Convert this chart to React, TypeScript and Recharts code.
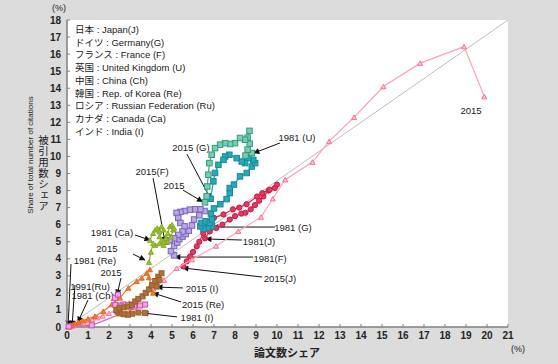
import React from 'react'
import {
  ScatterChart,
  Scatter,
  XAxis,
  YAxis,
  CartesianGrid,
  ReferenceLine,
} from 'recharts'

type Pt = { x: number; y: number }

// ── series (x = 論文数シェア %, y = 被引用数シェア %) ──
const japan: Pt[] = [
  { x: 6.57, y: 5.2 }, { x: 6.8, y: 5.6 }, { x: 7.1, y: 5.8 }, { x: 7.4, y: 6.0 },
  { x: 7.75, y: 6.3 }, { x: 8.0, y: 6.5 }, { x: 8.3, y: 6.65 }, { x: 8.5, y: 6.7 },
  { x: 8.75, y: 6.9 }, { x: 8.95, y: 7.15 }, { x: 9.15, y: 7.4 }, { x: 9.35, y: 7.65 },
  { x: 9.6, y: 8.0 }, { x: 9.9, y: 8.15 }, { x: 10.0, y: 8.35 }, { x: 9.65, y: 8.05 },
  { x: 9.3, y: 7.85 }, { x: 9.05, y: 7.65 }, { x: 8.55, y: 7.2 }, { x: 8.2, y: 7.0 },
  { x: 7.9, y: 6.9 }, { x: 7.45, y: 6.6 }, { x: 7.0, y: 6.4 }, { x: 6.7, y: 6.1 },
  { x: 6.49, y: 5.5 }, { x: 6.3, y: 5.0 }, { x: 6.18, y: 4.73 }, { x: 6.0, y: 4.4 },
  { x: 5.86, y: 4.14 }, { x: 5.7, y: 3.85 }, { x: 5.54, y: 3.55 },
]

const germany: Pt[] = [
  { x: 6.9, y: 5.9 }, { x: 6.7, y: 5.8 }, { x: 6.5, y: 5.75 }, { x: 6.35, y: 5.9 },
  { x: 6.4, y: 6.1 }, { x: 6.6, y: 6.2 }, { x: 6.8, y: 6.1 }, { x: 6.9, y: 6.3 },
  { x: 6.85, y: 6.65 }, { x: 7.0, y: 6.95 }, { x: 7.3, y: 7.2 }, { x: 7.6, y: 7.5 },
  { x: 7.75, y: 7.85 }, { x: 7.75, y: 8.15 }, { x: 7.95, y: 8.35 }, { x: 8.24, y: 8.83 },
  { x: 8.56, y: 9.03 }, { x: 8.8, y: 9.41 }, { x: 8.96, y: 9.61 }, { x: 8.87, y: 9.8 },
  { x: 8.64, y: 9.9 }, { x: 8.48, y: 9.61 }, { x: 8.32, y: 9.7 }, { x: 8.08, y: 9.9 },
  { x: 7.73, y: 10.1 }, { x: 7.53, y: 10.0 }, { x: 7.45, y: 9.8 }, { x: 7.21, y: 9.51 },
  { x: 7.05, y: 9.03 }, { x: 6.97, y: 8.54 }, { x: 6.84, y: 7.52 },
]

const france: Pt[] = [
  { x: 5.1, y: 4.2 }, { x: 4.95, y: 4.45 }, { x: 5.1, y: 4.75 }, { x: 5.25, y: 4.95 },
  { x: 5.35, y: 5.15 }, { x: 5.5, y: 5.3 }, { x: 5.65, y: 5.45 }, { x: 5.8, y: 5.65 },
  { x: 5.95, y: 5.95 }, { x: 6.05, y: 6.3 }, { x: 6.3, y: 6.55 }, { x: 6.55, y: 6.8 },
  { x: 6.35, y: 6.9 }, { x: 6.1, y: 6.9 }, { x: 5.85, y: 6.88 }, { x: 5.6, y: 6.8 },
  { x: 5.4, y: 6.75 }, { x: 5.22, y: 6.69 }, { x: 5.3, y: 6.4 }, { x: 5.4, y: 6.1 },
  { x: 5.6, y: 5.9 }, { x: 5.5, y: 5.6 }, { x: 5.3, y: 5.4 }, { x: 5.1, y: 5.2 },
  { x: 4.9, y: 5.1 }, { x: 4.7, y: 5.0 },
]

const uk: Pt[] = [
  { x: 8.8, y: 10.2 }, { x: 8.5, y: 10.05 }, { x: 8.6, y: 10.4 }, { x: 8.7, y: 10.75 },
  { x: 8.6, y: 11.1 }, { x: 8.69, y: 11.5 }, { x: 8.48, y: 10.98 }, { x: 8.24, y: 11.08 },
  { x: 8.0, y: 10.78 }, { x: 7.77, y: 10.73 }, { x: 7.53, y: 10.78 }, { x: 7.29, y: 10.69 },
  { x: 7.05, y: 10.49 }, { x: 6.89, y: 10.1 }, { x: 6.78, y: 9.61 }, { x: 6.73, y: 8.93 },
  { x: 6.68, y: 8.24 }, { x: 6.65, y: 7.66 }, { x: 6.57, y: 7.31 },
]

const china: Pt[] = [
  { x: 0.1, y: 0.02 }, { x: 0.2, y: 0.05 }, { x: 0.3, y: 0.08 }, { x: 0.4, y: 0.12 },
  { x: 0.5, y: 0.17 }, { x: 0.65, y: 0.22 }, { x: 0.8, y: 0.3 }, { x: 1.0, y: 0.38 },
  { x: 1.2, y: 0.45 }, { x: 1.45, y: 0.55 }, { x: 1.7, y: 0.65 }, { x: 2.0, y: 0.8 },
  { x: 2.3, y: 0.98 }, { x: 2.6, y: 1.18 }, { x: 2.97, y: 1.42 }, { x: 3.3, y: 1.62 },
  { x: 3.56, y: 1.8 }, { x: 4.11, y: 2.24 }, { x: 4.62, y: 2.75 }, { x: 5.22, y: 3.45 },
  { x: 5.95, y: 3.95 }, { x: 7.1, y: 4.75 }, { x: 8.16, y: 5.62 }, { x: 9.24, y: 6.45 },
  { x: 9.8, y: 7.52 }, { x: 10.39, y: 8.64 }, { x: 11.69, y: 9.67 }, { x: 12.48, y: 10.88 },
  { x: 13.67, y: 12.3 }, { x: 15.07, y: 14.1 }, { x: 16.82, y: 15.47 }, { x: 18.91, y: 16.44 },
  { x: 19.87, y: 13.51 },
]

const korea: Pt[] = [
  { x: 0.05, y: 0.03 }, { x: 0.1, y: 0.05 }, { x: 0.15, y: 0.08 }, { x: 0.2, y: 0.1 },
  { x: 0.29, y: 0.15 }, { x: 0.4, y: 0.2 }, { x: 0.55, y: 0.28 }, { x: 0.75, y: 0.38 },
  { x: 1.0, y: 0.48 }, { x: 1.33, y: 0.63 }, { x: 1.73, y: 0.93 }, { x: 2.13, y: 1.32 },
  { x: 2.52, y: 1.71 }, { x: 2.92, y: 2.29 }, { x: 3.32, y: 2.68 }, { x: 3.56, y: 2.88 },
  { x: 3.95, y: 3.37 }, { x: 3.8, y: 3.17 }, { x: 3.9, y: 2.9 }, { x: 4.0, y: 2.5 },
  { x: 4.1, y: 2.0 },
]

const russia: Pt[] = [
  { x: 0.08, y: 0.03 }, { x: 1.18, y: 0.1 }, { x: 3.72, y: 1.32 }, { x: 3.48, y: 1.26 },
  { x: 3.2, y: 1.2 }, { x: 3.0, y: 1.22 }, { x: 2.85, y: 1.3 }, { x: 2.68, y: 1.32 },
  { x: 2.55, y: 1.25 }, { x: 2.4, y: 1.15 }, { x: 2.3, y: 1.3 }, { x: 2.29, y: 1.71 },
  { x: 2.43, y: 1.9 },
]

const canada: Pt[] = [
  { x: 3.95, y: 5.1 }, { x: 4.1, y: 5.5 }, { x: 4.2, y: 5.7 }, { x: 4.3, y: 5.8 },
  { x: 4.4, y: 5.6 }, { x: 4.5, y: 5.9 }, { x: 4.6, y: 5.7 }, { x: 4.4, y: 5.3 },
  { x: 4.5, y: 5.1 }, { x: 4.6, y: 4.8 }, { x: 4.7, y: 5.2 }, { x: 4.8, y: 5.5 },
  { x: 4.9, y: 5.9 }, { x: 5.0, y: 6.0 }, { x: 5.05, y: 5.7 }, { x: 5.1, y: 5.8 },
  { x: 4.95, y: 5.3 }, { x: 4.8, y: 5.0 }, { x: 4.6, y: 5.0 }, { x: 4.4, y: 4.9 },
  { x: 4.2, y: 4.8 }, { x: 4.1, y: 4.9 }, { x: 4.0, y: 4.4 }, { x: 3.9, y: 3.8 },
]

const india: Pt[] = [
  { x: 3.71, y: 0.83 }, { x: 3.4, y: 0.85 }, { x: 3.1, y: 0.78 }, { x: 2.9, y: 0.72 },
  { x: 2.7, y: 0.75 }, { x: 2.5, y: 0.8 }, { x: 2.4, y: 0.9 }, { x: 2.35, y: 1.0 },
  { x: 2.5, y: 1.1 }, { x: 2.7, y: 1.15 }, { x: 2.9, y: 1.2 }, { x: 3.1, y: 1.3 },
  { x: 3.25, y: 1.5 }, { x: 3.4, y: 1.65 }, { x: 3.6, y: 1.8 }, { x: 3.75, y: 2.0 },
  { x: 3.9, y: 2.2 }, { x: 4.05, y: 2.45 }, { x: 4.2, y: 2.7 }, { x: 4.35, y: 2.95 },
  { x: 4.5, y: 3.15 }, { x: 4.4, y: 2.75 }, { x: 4.27, y: 2.37 },
]

const xTicks = [0, 1, 2, 3, 4, 5, 6, 7, 8, 9, 10, 11, 12, 13, 14, 15, 16, 17, 18, 19, 20, 21]
const yTicks = [0, 1, 2, 3, 4, 5, 6, 7, 8, 9, 10, 11, 12, 13, 14, 15, 16, 17, 18]

const legendLines = [
  '日本 : Japan(J)',
  'ドイツ : Germany(G)',
  'フランス : France (F)',
  '英国 : United Kingdom (U)',
  '中国 : China (Ch)',
  '韓国 : Rep. of Korea (Re)',
  'ロシア : Russian Federation (Ru)',
  'カナダ : Canada (Ca)',
  'インド : India (I)',
]

// annotation labels (data coords)
const notes = [
  { x: 19.24, y: 12.72, label: '2015' },
  { x: 10.95, y: 11.14, label: '1981 (U)' },
  { x: 5.9, y: 10.55, label: '2015 (G)' },
  { x: 4.05, y: 9.09, label: '2015(F)' },
  { x: 5.1, y: 8.32, label: '2015' },
  { x: 2.14, y: 5.57, label: '1981 (Ca)' },
  { x: 1.9, y: 4.63, label: '2015' },
  { x: 1.33, y: 3.87, label: '1981 (Re)' },
  { x: 2.1, y: 3.17, label: '2015' },
  { x: 1.1, y: 2.4, label: '1991(Ru)' },
  { x: 1.22, y: 1.82, label: '1981 (Ch)' },
  { x: 6.43, y: 2.23, label: '2015 (I)' },
  { x: 6.48, y: 1.29, label: '2015 (Re)' },
  { x: 6.19, y: 0.53, label: '1981 (I)' },
  { x: 10.76, y: 5.86, label: '1981 (G)' },
  { x: 9.14, y: 5.04, label: '1981(J)' },
  { x: 9.67, y: 4.04, label: '1981(F)' },
  { x: 10.14, y: 2.87, label: '2015(J)' },
]

// arrows: [fromX, fromY, toX, toY]
const arrows = [
  [10.14, 10.79, 8.9, 10.2],
  [5.71, 10.14, 6.84, 7.5],
  [4.1, 8.73, 4.67, 4.98],
  [5.52, 8.03, 6.45, 7.35],
  [3.24, 5.39, 3.95, 5.1],
  [3.14, 4.28, 3.71, 3.93],
  [0.19, 3.69, 0.05, 0.06],
  [0.38, 2.46, 0.24, 0.06],
  [1.0, 1.58, 0.52, 0.29],
  [2.57, 2.87, 2.38, 1.88],
  [5.52, 2.29, 4.29, 2.34],
  [5.43, 1.47, 4.1, 1.99],
  [5.24, 0.59, 3.62, 0.82],
  [9.9, 5.86, 6.95, 5.86],
  [8.33, 5.1, 6.62, 5.16],
  [8.86, 4.1, 5.14, 4.1],
  [9.29, 2.93, 5.52, 3.46],
]

const FONT = '"Liberation Sans", "Noto Sans CJK JP", Arial, sans-serif'

// eslint-disable-next-line @typescript-eslint/no-explicit-any
function square(stroke: string, fill: string, s = 5.5) {
  return (p: any) => {
    if (p.cx == null) return <g />
    return <rect x={p.cx - s / 2} y={p.cy - s / 2} width={s} height={s} fill={fill} stroke={stroke} strokeWidth={1} />
  }
}
function circle(stroke: string, fill: string, r = 2.6) {
  return (p: any) => {
    if (p.cx == null) return <g />
    return <circle cx={p.cx} cy={p.cy} r={r} fill={fill} stroke={stroke} strokeWidth={1} />
  }
}
function triangle(stroke: string, fill: string, s = 5.5) {
  return (p: any) => {
    if (p.cx == null) return <g />
    const h = s * 0.9
    const d = `M${p.cx},${p.cy - h / 2} L${p.cx + s / 2},${p.cy + h / 2} L${p.cx - s / 2},${p.cy + h / 2} Z`
    return <path d={d} fill={fill} stroke={stroke} strokeWidth={1} />
  }
}

function noteText(p: any) {
  if (p.cx == null) return <g />
  return (
    <text x={p.cx} y={p.cy} textAnchor="middle" dominantBaseline="central" fontSize={9.5} fill="#1a1a1a" fontFamily={FONT}>
      {p.payload.label}
    </text>
  )
}

const series = [
  { name: 'Japan', data: japan, line: '#e0284f', shape: circle('#c81840', '#e8385e') },
  { name: 'Germany', data: germany, line: '#1b9aab', shape: square('#128c9c', '#2aa8b8') },
  { name: 'France', data: france, line: '#8a72c8', shape: square('#7a62ba', '#b8a8e4') },
  { name: 'UK', data: uk, line: '#3aa88a', shape: square('#2e9c7e', '#7cccb4') },
  { name: 'China', data: china, line: '#ffa3b4', shape: triangle('#ff6f8c', '#ffc0cc', 5) },
  { name: 'Korea', data: korea, line: '#f27224', shape: triangle('#ea6418', '#f47a2e', 5) },
  { name: 'Russia', data: russia, line: '#dc5cc4', shape: square('#d048b8', '#f0a8e4', 5) },
  { name: 'Canada', data: canada, line: '#8fb526', shape: triangle('#86ac1c', '#9cc232', 5) },
  { name: 'India', data: india, line: '#a86a30', shape: square('#9a5e26', '#b07238', 5) },
]

export default function App() {
  return (
    <div style={{ position: 'absolute', left: 0, top: 0, width: 558, height: 364, background: '#dcdcdc', fontFamily: FONT }}>
      <ScatterChart width={558} height={364} margin={{ top: 20, right: 50, bottom: 7, left: 0 }}>
        <defs>
          <marker id="arr" viewBox="0 0 10 10" refX="9" refY="5" markerWidth="7" markerHeight="6" markerUnits="userSpaceOnUse" orient="auto">
            <path d="M0,0 L10,5 L0,10 z" fill="#111" />
          </marker>
        </defs>
        <CartesianGrid fill="#ffffff" stroke="none" />
        <XAxis
          type="number"
          dataKey="x"
          domain={[0, 21]}
          ticks={xTicks}
          interval={0}
          height={30}
          tickSize={-3}
          tickMargin={8}
          axisLine={{ stroke: '#808080', strokeWidth: 1.5 }}
          tickLine={{ stroke: '#808080' }}
          tick={{ fontSize: 10, fill: '#222', fontWeight: 'bold', fontFamily: FONT }}
        />
        <YAxis
          type="number"
          dataKey="y"
          domain={[0, 18]}
          ticks={yTicks}
          interval={0}
          width={67}
          tickSize={-3}
          tickMargin={9}
          axisLine={{ stroke: '#808080', strokeWidth: 1.5 }}
          tickLine={{ stroke: '#808080' }}
          tick={{ fontSize: 10, fill: '#222', fontWeight: 'bold', fontFamily: FONT }}
        />
        <ReferenceLine segment={[{ x: 0, y: 0 }, { x: 21, y: 18 }]} stroke="#bdbdbd" strokeWidth={1} />
        <Scatter name="notes" data={notes} shape={noteText} isAnimationActive={false} />
        {series.map((s) => (
          <Scatter
            key={s.name}
            name={s.name}
            data={s.data}
            line={{ stroke: s.line, strokeWidth: 1.2 }}
            shape={s.shape}
            isAnimationActive={false}
          />
        ))}
        {arrows.map((a, i) => (
          <ReferenceLine
            key={i}
            segment={[{ x: a[0], y: a[1] }, { x: a[2], y: a[3] }]}
            stroke="#111"
            strokeWidth={1}
            markerEnd="url(#arr)"
          />
        ))}
      </ScatterChart>

      {/* ── legend block ── */}
      <div style={{ position: 'absolute', left: 75, top: 24 }}>
        {legendLines.map((t) => (
          <div key={t} style={{ fontSize: 9.5, lineHeight: '12.7px', color: '#1a1a1a', whiteSpace: 'nowrap' }}>{t}</div>
        ))}
      </div>

      {/* ── axis titles ── */}
      <div style={{ position: 'absolute', left: 52, top: 3, fontSize: 9, color: '#222' }}>(%)</div>
      <div style={{ position: 'absolute', left: 511, top: 344, fontSize: 9, color: '#222' }}>(%)</div>
      <div style={{ position: 'absolute', left: 250, top: 344, width: 74, textAlign: 'center', fontSize: 11, fontWeight: 'bold', color: '#222' }}>論文数シェア</div>
      <div style={{ position: 'absolute', left: 37, top: 135, writingMode: 'vertical-rl', fontSize: 10.5, lineHeight: '11px', letterSpacing: 0.5, color: '#222' }}>被引用数シェア</div>
      <div
        style={{
          position: 'absolute',
          left: 30,
          top: 155,
          transform: 'translate(-50%, -50%) rotate(-90deg)',
          fontSize: 8,
          color: '#222',
          whiteSpace: 'nowrap',
        }}
      >
        Share of total number of citations
      </div>
    </div>
  )
}
